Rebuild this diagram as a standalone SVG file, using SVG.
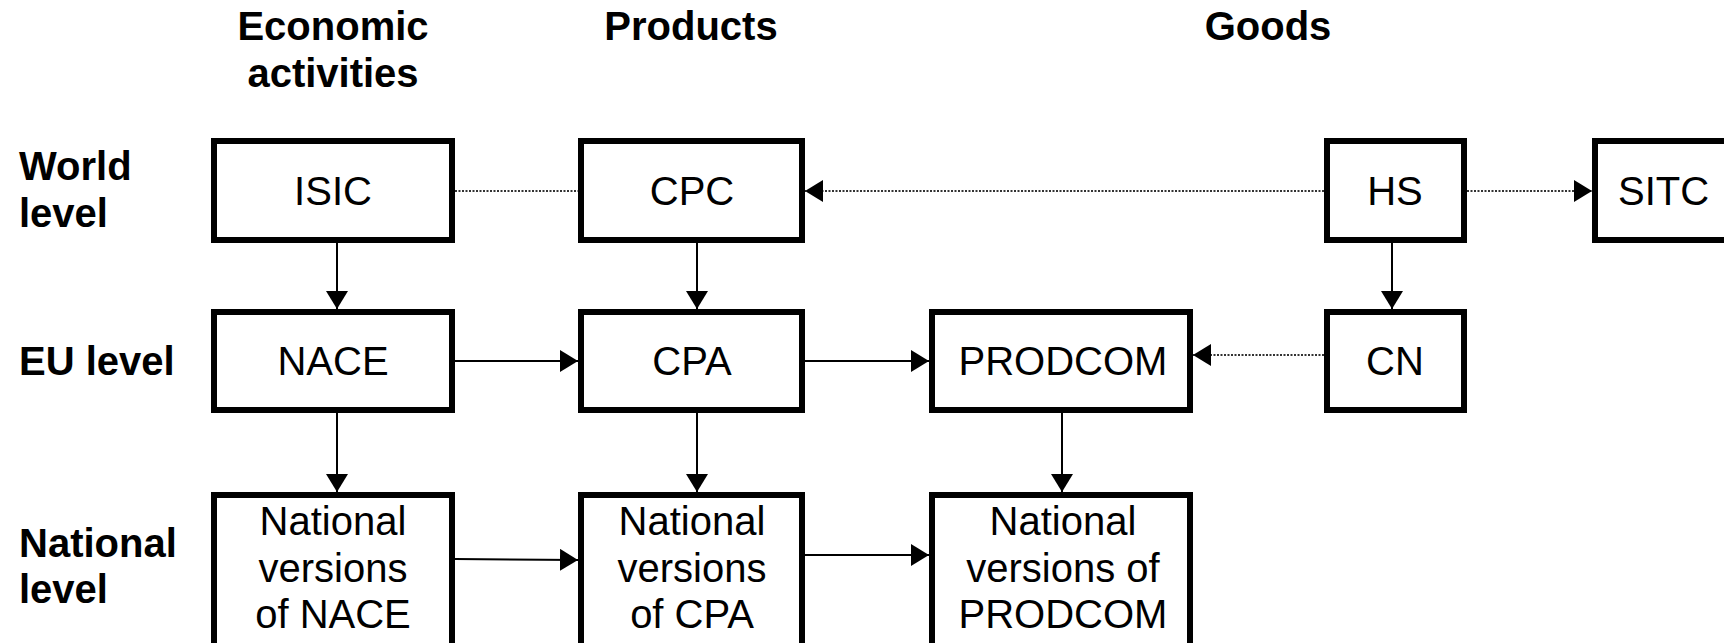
<svg xmlns="http://www.w3.org/2000/svg" width="1724" height="643" viewBox="0 0 1724 643">
<style>
.box{fill:#fff;stroke:#000;stroke-width:6}
.t{font-family:"Liberation Sans",Arial,sans-serif;font-size:40px;fill:#000;text-anchor:middle}
.ts{font-family:"Liberation Sans",Arial,sans-serif;font-size:40px;fill:#000;text-anchor:start}
.h{font-family:"Liberation Sans",Arial,sans-serif;font-size:40px;font-weight:bold;fill:#000}
.hc{text-anchor:middle}
.c{stroke:#000;stroke-width:2;fill:none}
.d{stroke:#333;stroke-width:2;stroke-dasharray:2 1.5;fill:none}
</style>
<defs>
<marker id="ah" markerWidth="18" markerHeight="22" refX="18" refY="11" orient="auto" markerUnits="userSpaceOnUse">
<path d="M0,0 L18,11 L0,22 Z" fill="#000"/>
</marker>
</defs>
<rect width="1724" height="643" fill="#fff"/>
<g id="headers">
<text class="h hc" x="333" y="40">Economic</text>
<text class="h hc" x="333" y="87">activities</text>
<text class="h hc" x="691" y="40">Products</text>
<text class="h hc" x="1268" y="40">Goods</text>
<text class="h" x="19" y="180">World</text>
<text class="h" x="19" y="227">level</text>
<text class="h" x="19" y="375">EU level</text>
<text class="h" x="19" y="557">National</text>
<text class="h" x="19" y="603">level</text>
</g>
<g id="connectors">
<line class="d" x1="455" y1="191" x2="578" y2="191"/>
<line class="d" x1="1324" y1="191" x2="805" y2="191" marker-end="url(#ah)"/>
<line class="d" x1="1467" y1="191" x2="1592" y2="191" marker-end="url(#ah)"/>
<line class="d" x1="1324" y1="355" x2="1193" y2="355" marker-end="url(#ah)"/>
<line class="c" x1="337" y1="243" x2="337" y2="309" marker-end="url(#ah)"/>
<line class="c" x1="697" y1="243" x2="697" y2="309" marker-end="url(#ah)"/>
<line class="c" x1="1392" y1="243" x2="1392" y2="309" marker-end="url(#ah)"/>
<line class="c" x1="455" y1="361" x2="578" y2="361" marker-end="url(#ah)"/>
<line class="c" x1="805" y1="361" x2="929" y2="361" marker-end="url(#ah)"/>
<line class="c" x1="337" y1="413" x2="337" y2="492" marker-end="url(#ah)"/>
<line class="c" x1="697" y1="413" x2="697" y2="492" marker-end="url(#ah)"/>
<line class="c" x1="1062" y1="413" x2="1062" y2="492" marker-end="url(#ah)"/>
<line class="c" x1="455" y1="559" x2="578" y2="560" marker-end="url(#ah)"/>
<line class="c" x1="805" y1="555" x2="929" y2="555" marker-end="url(#ah)"/>
</g>
<g id="isic"><rect class="box" x="214" y="141" width="238" height="99"/><text class="t" x="333" y="205">ISIC</text></g>
<g id="cpc"><rect class="box" x="581" y="141" width="221" height="99"/><text class="t" x="692" y="205">CPC</text></g>
<g id="hs"><rect class="box" x="1327" y="141" width="137" height="99"/><text class="t" x="1395" y="205">HS</text></g>
<g id="sitc"><rect class="box" x="1595" y="141" width="160" height="99"/><text class="ts" x="1618" y="205">SITC</text></g>
<g id="nace"><rect class="box" x="214" y="312" width="238" height="98"/><text class="t" x="333" y="375">NACE</text></g>
<g id="cpa"><rect class="box" x="581" y="312" width="221" height="98"/><text class="t" x="692" y="375">CPA</text></g>
<g id="prodcom"><rect class="box" x="932" y="312" width="258" height="98"/><text class="t" x="1063" y="375">PRODCOM</text></g>
<g id="cn"><rect class="box" x="1327" y="312" width="137" height="98"/><text class="t" x="1395" y="375">CN</text></g>
<g id="nat-nace"><rect class="box" x="214" y="495" width="238" height="200"/><text class="t" x="333" y="535">National</text><text class="t" x="333" y="582">versions</text><text class="t" x="333" y="628">of NACE</text></g>
<g id="nat-cpa"><rect class="box" x="581" y="495" width="221" height="200"/><text class="t" x="692" y="535">National</text><text class="t" x="692" y="582">versions</text><text class="t" x="692" y="628">of CPA</text></g>
<g id="nat-prodcom"><rect class="box" x="932" y="495" width="258" height="200"/><text class="t" x="1063" y="535">National</text><text class="t" x="1063" y="582">versions of</text><text class="t" x="1063" y="628">PRODCOM</text></g>
</svg>
